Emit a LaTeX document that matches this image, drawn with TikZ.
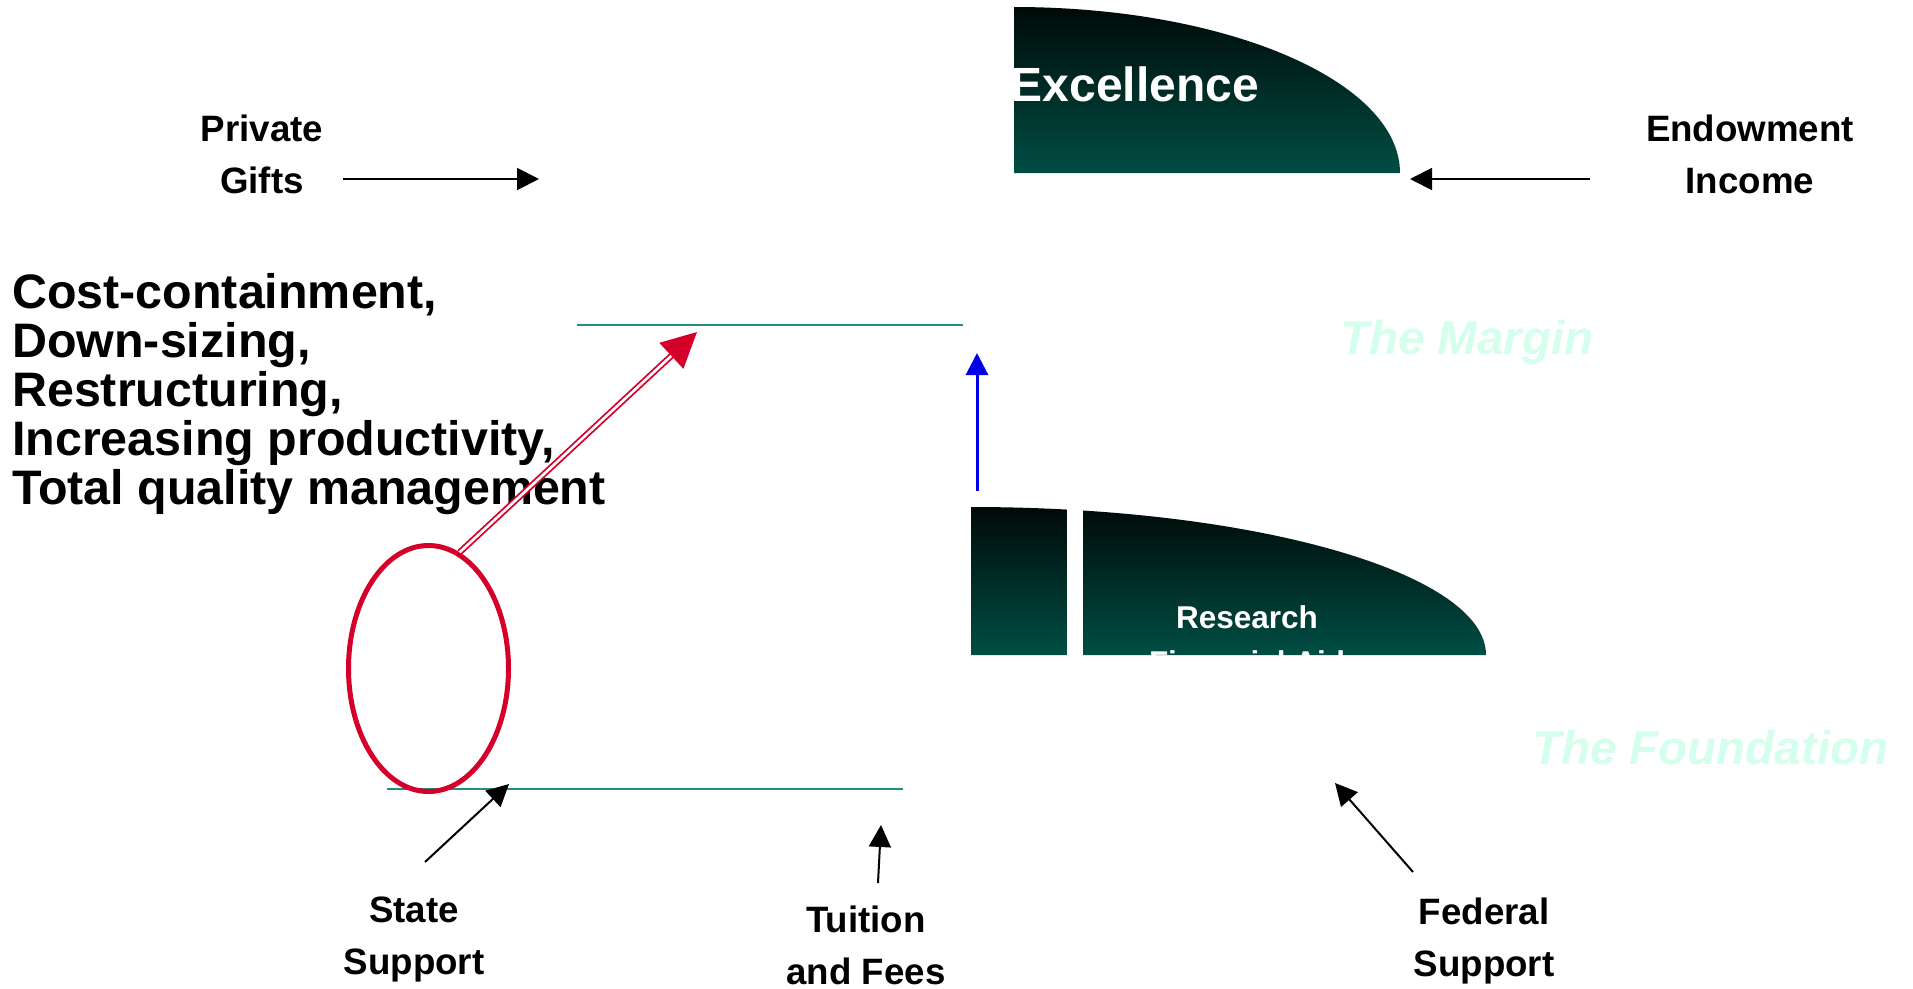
\documentclass[tikz,border=0pt]{standalone}
\usepackage{fontspec}
\setmainfont{Liberation Sans}
\usetikzlibrary{positioning,arrows.meta,shapes.geometric}
\definecolor{nearblack}{RGB}{0,10,8}
\definecolor{deepteal}{RGB}{0,78,68}
\definecolor{ruleteal}{RGB}{38,140,128}
\definecolor{mint}{RGB}{212,255,236}
\definecolor{crimson}{RGB}{213,0,42}
\definecolor{flowblue}{RGB}{0,0,230}
\tikzset{
  srctext/.style={font=\fontsize{36.7}{52}\selectfont\bfseries, align=center, inner sep=0pt, anchor=north},
  zonetext/.style={mint, font=\fontsize{47.5}{50}\selectfont\bfseries\itshape, inner sep=0pt, anchor=north west},
  inflow/.style={line width=2pt, -{Triangle[length=22pt,width=22pt]}},
  level/.style={ruleteal, line width=1.5pt},
  hill/.style={top color=nearblack, bottom color=deepteal}
}
\begin{document}
\begin{tikzpicture}[x=1pt,y=-1pt]
\useasboundingbox (0,0) rectangle (1913,988);
\shade[hill] (1014,173) -- (1014,7) arc[start angle=-90,end angle=0,x radius=386,y radius=166] -- cycle;
\shade[hill] (971,655) -- (971,507) arc[start angle=-90,end angle=0,x radius=515,y radius=148] -- cycle;
\fill[white] (1067,500) rectangle (1083,660);
\node[white, font=\fontsize{48}{50}\selectfont\bfseries, inner sep=0pt, anchor=north west] (excel) at (1010.5,67) {Excellence};
\node[white, font=\fontsize{31.5}{45}\selectfont\bfseries, align=center, inner sep=0pt, anchor=north] (research) at (1247,605) {Research\\Financial Aid};
\node[zonetext] (margin) at (1340,320) {The Margin};
\node[zonetext] (found) at (1532,730) {The Foundation};
\node[font=\fontsize{48.4}{49}\selectfont\bfseries, align=left, inner sep=0pt, anchor=north west] (tactics) at (12,273) {Cost-containment,\\Down-sizing,\\Restructuring,\\Increasing productivity,\\Total quality management};
\node[srctext] (private) at (262,115) {Private\\Gifts};
\node[srctext] (endow) at (1750,115) {Endowment\\Income};
\node[srctext] (state) at (414,897) {State\\Support};
\node[srctext] (tuition) at (866,906) {Tuition\\and Fees};
\node[srctext] (federal) at (1484,898) {Federal\\Support};
\coordinate (mtl) at (577,325);
\coordinate[right=386pt of mtl] (mtr);
\coordinate (ftl) at (387,789);
\coordinate[right=516pt of ftl] (ftr);
\draw[level] (mtl) -- (mtr);
\draw[level] (ftl) -- (ftr);
\node[draw=crimson, line width=5pt, ellipse, minimum width=160pt, minimum height=246pt, inner sep=0pt] (cuts) at (428.5,668.5) {};
\coordinate (redtip) at (697,332);
\draw[crimson, line width=1.8pt, double=white, double distance=2.6pt, -{Triangle[length=35pt,width=35pt]}] (cuts.75) -- (redtip);
\coordinate (bluefoot) at (977,491);
\coordinate[above=138pt of bluefoot] (bluetip);
\draw[flowblue, line width=3pt, -{Triangle[length=22pt,width=22pt]}] (bluefoot) -- (bluetip);
\coordinate (gifttail) at (343,179);
\coordinate[right=196pt of gifttail] (gifthead);
\coordinate (endowtail) at (1590,179);
\coordinate[left=180pt of endowtail] (endowhead);
\coordinate (statetail) at (425,862);
\coordinate (statehead) at (509,784);
\coordinate (tuittail) at (878,883);
\coordinate (tuithead) at (881,825);
\coordinate (fedtail) at (1413,872);
\coordinate (fedhead) at (1335,783);
\draw[inflow] (gifttail) -- (gifthead);
\draw[inflow] (endowtail) -- (endowhead);
\draw[inflow] (statetail) -- (statehead);
\draw[inflow] (tuittail) -- (tuithead);
\draw[inflow] (fedtail) -- (fedhead); %funding streams
\end{tikzpicture}
\end{document}
